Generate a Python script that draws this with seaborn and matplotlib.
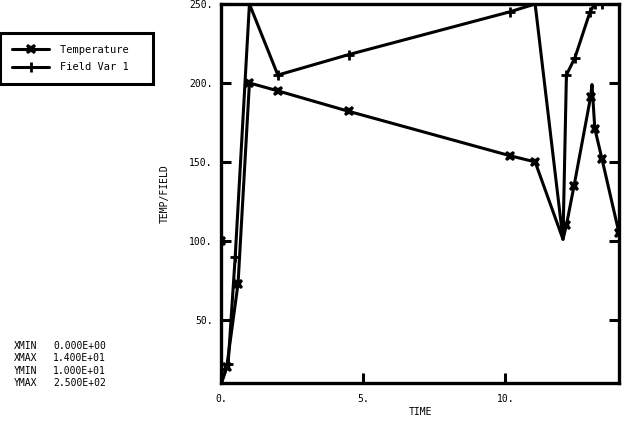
import pandas as pd
import matplotlib
matplotlib.use("Agg")
import matplotlib.pyplot as plt
import seaborn as sns

# -----------------------------
# DATA
# -----------------------------
temp_time = [0.0, 0.02, 0.2, 0.6, 1.0, 2.0, 4.5, 10.15, 11.05, 12.03, 12.15,
             12.42, 13.0, 13.05, 13.15, 13.4, 14.0]
temp_vals = [100, 10, 20, 73, 200, 195, 182, 154, 150, 101, 110,
             135, 191, 199, 171, 152, 105]
temp_marked = [0, 2, 3, 4, 5, 6, 7, 8, 10, 11, 12, 14, 15, 16]

field_time = [0.0, 0.25, 0.5, 1.0, 2.0, 4.5, 10.15, 11.05, 12.03, 12.15,
              12.45, 12.98, 13.15, 13.4, 14.0]
field_vals = [10, 22, 90, 250, 205, 218, 245, 250, 101, 205,
              216, 245, 250, 250, 250]
field_marked = [1, 2, 3, 4, 5, 6, 7, 9, 10, 11, 12, 13, 14]

x_ticks = [0, 5, 10]
x_tick_labels = ["0.", "5.", "10."]
y_ticks = [50, 100, 150, 200, 250]
y_tick_labels = ["50.", "100.", "150.", "200.", "250."]

stats_names = ["XMIN", "XMAX", "YMIN", "YMAX"]
stats_vals = ["0.000E+00", "1.400E+01", "1.000E+01", "2.500E+02"]

temp_df = pd.DataFrame({"time": temp_time, "value": temp_vals})
field_df = pd.DataFrame({"time": field_time, "value": field_vals})

# -----------------------------
# PLOT
# -----------------------------
sns.set_style("white")
plt.rcParams["font.family"] = ["DejaVu Sans Mono"]
plt.rcParams["text.color"] = "black"
plt.rcParams["axes.labelcolor"] = "black"
plt.rcParams["xtick.color"] = "black"
plt.rcParams["ytick.color"] = "black"

fig = plt.figure(figsize=(6.23, 4.21), dpi=100)
ax = fig.add_axes([221 / 623, 38 / 421, 398 / 623, 379 / 421])

sns.lineplot(data=temp_df, x="time", y="value", ax=ax, sort=False,
             color="black", linewidth=2.2, marker="X", markersize=7.5,
             markeredgewidth=0, markerfacecolor="black",
             markevery=temp_marked, label="Temperature  ")
sns.lineplot(data=field_df, x="time", y="value", ax=ax, sort=False,
             color="black", linewidth=2.2, marker="+", markersize=7.5,
             markeredgewidth=2.0, markeredgecolor="black",
             markevery=field_marked, label="Field Var 1  ")

ax.set_xlim(0, 14)
ax.set_ylim(10, 250)
ax.set_xticks(x_ticks)
ax.set_xticklabels(x_tick_labels)
ax.set_yticks(y_ticks)
ax.set_yticklabels(y_tick_labels)
ax.tick_params(direction="in", length=7, width=2.2, labelsize=7,
               top=False, right=True, bottom=True, left=True)
ax.tick_params(axis="x", pad=8)
ax.tick_params(axis="y", pad=6)
for sp in ax.spines.values():
    sp.set_visible(True)
    sp.set_color("black")
    sp.set_linewidth(2.4)

ax.set_xlabel("TIME", fontsize=7, labelpad=2)
ax.set_ylabel("TEMP/FIELD", fontsize=7, labelpad=14)

leg = ax.legend(loc="upper left", bbox_to_anchor=(0.0, 1 - 33 / 421),
                bbox_transform=fig.transFigure, fontsize=7.5, frameon=True,
                fancybox=False, framealpha=1, handlelength=3.6,
                handletextpad=1.0, borderpad=1.15, labelspacing=0.7,
                borderaxespad=0)
leg.get_frame().set_edgecolor("black")
leg.get_frame().set_linewidth(2.2)
for h in leg.legend_handles:
    h.set_markeredgecolor("black")
    h.set_markerfacecolor("black")

for i, (name, val) in enumerate(zip(stats_names, stats_vals)):
    y = 346 + i * 12 + (1 if i >= 2 else 0)
    fig.text(14 / 623, 1 - y / 421, name, fontsize=7, va="center")
    fig.text(53 / 623, 1 - y / 421, val, fontsize=7, va="center")

plt.savefig("out.png", dpi=100)
print("Saved out.png")
